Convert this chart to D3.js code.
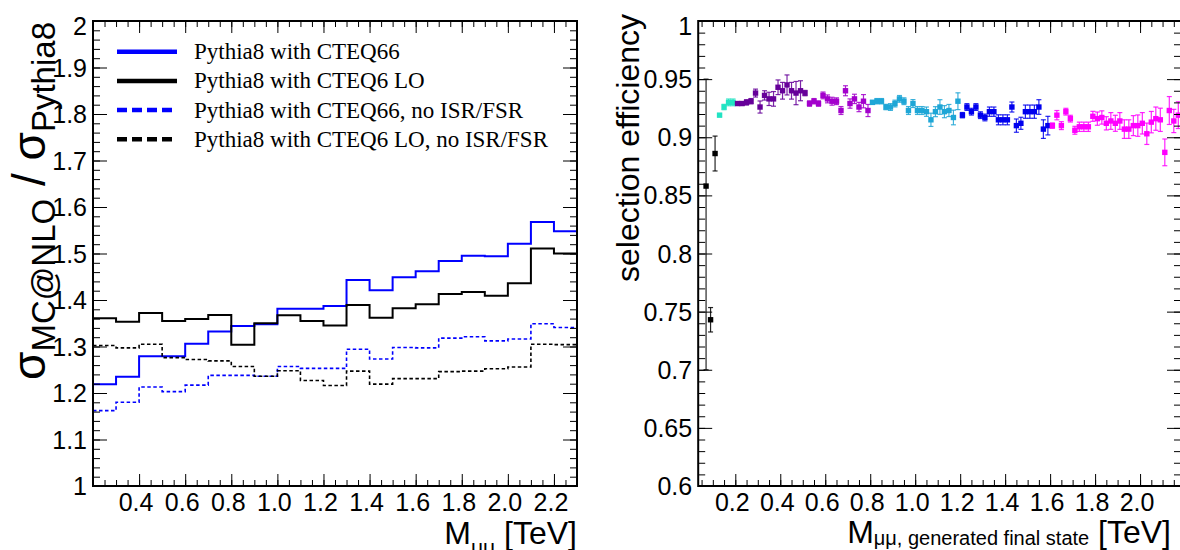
<!DOCTYPE html>
<html><head><meta charset="utf-8">
<script src="https://cdn.jsdelivr.net/npm/d3@7"></script>
<style>body{margin:0;background:#fff}svg{display:block}</style>
</head><body>
<svg id="c" width="1180" height="550"></svg>
<script>
// ---------- DATA: left panel (cross-section ratio histograms) ----------
const massBinEdges = [0.2,0.3,0.4,0.5,0.6,0.7,0.8,0.9,1.0,1.1,1.2,1.3,1.4,1.5,1.6,1.7,1.8,1.9,2.0,2.1,2.2,2.3];
const ratioCTEQ66        = [1.219,1.235,1.279,1.279,1.306,1.332,1.344,1.348,1.381,1.381,1.387,1.443,1.421,1.449,1.462,1.484,1.495,1.494,1.521,1.568,1.548];
const ratioCTEQ6LO       = [1.361,1.353,1.372,1.355,1.359,1.368,1.304,1.350,1.367,1.355,1.345,1.389,1.362,1.382,1.391,1.413,1.417,1.409,1.436,1.511,1.500];
const ratioCTEQ66noISR   = [1.162,1.180,1.213,1.203,1.217,1.238,1.238,1.236,1.257,1.253,1.253,1.294,1.273,1.298,1.297,1.318,1.321,1.312,1.316,1.349,1.341];
const ratioCTEQ6LOnoISR  = [1.302,1.297,1.305,1.276,1.272,1.269,1.257,1.236,1.248,1.227,1.216,1.247,1.219,1.231,1.231,1.246,1.247,1.252,1.256,1.305,1.304];
const legendLabels = ["Pythia8 with CTEQ66","Pythia8 with CTEQ6 LO","Pythia8 with CTEQ66, no ISR/FSR","Pythia8 with CTEQ6 LO, no ISR/FSR"];
const leftXTicks = [0.4,0.6,0.8,1.0,1.2,1.4,1.6,1.8,2.0,2.2];
const leftYTicks = [1,1.1,1.2,1.3,1.4,1.5,1.6,1.7,1.8,1.9,2];

// ---------- DATA: right panel (selection efficiency) ----------
const effMass = [0.07,0.09,0.11,0.13,0.15,0.17,0.19,0.21,0.23,0.25,0.27,0.29,0.31,0.33,0.35,0.37,0.39,0.41,0.43,0.45,0.47,0.49,0.51,0.53,0.55,0.57,0.59,0.61,0.63,0.65,0.67,0.69,0.71,0.73,0.75,0.77,0.79,0.81,0.83,0.85,0.87,0.89,0.91,0.93,0.95,0.97,0.99,1.01,1.03,1.05,1.07,1.09,1.11,1.13,1.15,1.17,1.19,1.21,1.23,1.25,1.27,1.29,1.31,1.33,1.35,1.37,1.39,1.41,1.43,1.45,1.47,1.49,1.51,1.53,1.55,1.57,1.59,1.61,1.63,1.65,1.67,1.69,1.71,1.73,1.75,1.77,1.79,1.81,1.83,1.85,1.87,1.89,1.91,1.93,1.95,1.97,1.99,2.01,2.03,2.05,2.07,2.09,2.11,2.13,2.15,2.17];
const effValue = [0.858,0.743,0.886,
  0.919,0.926,0.930,0.930,
  0.929,0.929,0.930,0.931,0.938,0.926,0.936,0.933,0.933,0.943,0.940,0.945,0.940,0.938,0.940,0.938,
  0.929,0.931,0.929,0.936,0.933,0.931,0.931,0.923,0.940,0.929,0.933,0.926,0.931,0.923,
  0.930,0.931,0.931,0.926,0.926,0.929,0.933,0.931,0.923,0.929,0.923,0.923,0.922,0.915,0.922,0.926,0.922,0.923,0.917,0.931,
  0.919,0.926,0.922,0.926,0.919,0.917,0.922,0.922,0.915,0.915,0.915,0.926,0.910,0.912,0.922,0.922,0.922,0.926,0.907,0.910,
  0.910,0.919,0.910,0.922,0.916,0.906,0.909,0.909,0.909,0.918,0.916,0.917,0.912,0.914,0.912,0.914,0.907,0.907,0.910,0.910,0.912,0.903,0.913,0.916,0.915,0.887,0.923,0.914,0.919];
const effErrUp = [0.092,0.0105,0.015,
  0.001,0.0023,0.0029,0.0029,
  0.0014,0.0014,0.0023,0.0023,0.0034,0.0052,0.0040,0.0057,0.0063,0.0063,0.0072,0.0086,0.0072,0.0100,0.0086,0.0023,
  0.0023,0.0023,0.0023,0.0029,0.0034,0.0034,0.0029,0.0034,0.0043,0.0040,0.0040,0.0040,0.0057,0.0052,
  0.0017,0.0023,0.0023,0.0023,0.0029,0.0029,0.0029,0.0029,0.0034,0.0034,0.0034,0.0034,0.0040,0.0057,0.0043,0.0063,0.0052,0.0052,0.0063,0.0072,
  0.0023,0.0029,0.0029,0.0029,0.0029,0.0029,0.0040,0.0040,0.0043,0.0043,0.0043,0.0043,0.0057,0.0052,0.0057,0.0057,0.0057,0.0063,0.0080,0.0080,
  0.0023,0.0040,0.0034,0.0029,0.0029,0.0034,0.0040,0.0040,0.0040,0.0043,0.0057,0.0057,0.0057,0.0072,0.0069,0.0072,0.0080,0.0080,0.0086,0.0092,0.0092,0.0092,0.0092,0.0100,0.0100,0.0115,0.0120,0.0100,0.0115];
const effErrDown = [0.158,0.0105,0.015].concat(effErrUp.slice(3));
const sampleCounts = [3,4,16,14,20,20,29];
const rightXTicks = [0.2,0.4,0.6,0.8,1.0,1.2,1.4,1.6,1.8,2.0];
const rightYTicks = [0.6,0.65,0.7,0.75,0.8,0.85,0.9,0.95,1];

// ---------- STYLE ----------
const sampleColors = ["#000000","#22e3c3","#660099","#a300cc","#1ea6d6","#0000ee","#ff00ff"];
const SANS = "'Liberation Sans', Arial, Helvetica, sans-serif";
const SERIF = "'Liberation Serif', 'Times New Roman', serif";
const svg = d3.select("#c");

function frameAxes(g, x, y, o) {
  const [x0,x1] = x.range(), [y1,y0] = y.range();
  const yTop = y.domain()[1];
  const mk = (axis, tr, vals, size) => g.append("g").attr("transform", tr)
      .call(axis.tickValues(vals).tickSize(size).tickFormat(""))
      .call(s => { s.select(".domain").remove(); s.selectAll("line").attr("stroke","#000").attr("stroke-width",1); });
  mk(d3.axisBottom(x), `translate(0,${y1})`, o.xMinor, -6);
  mk(d3.axisBottom(x), `translate(0,${y1})`, o.xMajor, -12);
  mk(d3.axisTop(x), `translate(0,${y0})`, o.xMinor, -6);
  mk(d3.axisTop(x), `translate(0,${y0})`, o.xMajor, -12);
  mk(d3.axisLeft(y), `translate(${x0},0)`, o.yMinor, -7);
  mk(d3.axisLeft(y), `translate(${x0},0)`, o.yMajor, -14);
  mk(d3.axisRight(y), `translate(${x1},0)`, o.yMinor, -7);
  mk(d3.axisRight(y), `translate(${x1},0)`, o.yMajor, -14);
  g.append("rect").attr("x",x0).attr("y",y0).attr("width",x1-x0).attr("height",y1-y0)
    .attr("fill","none").attr("stroke","#000").attr("stroke-width",2);
  g.append("g").selectAll("text").data(o.xLabels).join("text")
    .attr("x", d => x(d) - 3).attr("y", y1 + 25).attr("text-anchor","middle")
    .attr("font-family",SANS).attr("font-size",25).text(o.xFmt);
  g.append("g").selectAll("text").data(o.yLabels).join("text")
    .attr("x", x0 - 6).attr("y", d => y(d) + (d === yTop ? 5 : 0)).attr("dy","0.36em").attr("text-anchor","end")
    .attr("font-family",SANS).attr("font-size",25).text(o.yFmt);
}
function rangeStep(a,b,s){const r=[];for(let v=a;v<=b+1e-9;v+=s)r.push(+v.toFixed(4));return r;}

// ---------- LEFT PANEL ----------
const xL = d3.scaleLinear().domain([0.2,2.3]).range([93,577]);
const yL = d3.scaleLinear().domain([1,2]).range([486,21]);
const gL = svg.append("g");
svg.append("clipPath").attr("id","clipL").append("rect").attr("x",93).attr("y",21).attr("width",484).attr("height",465);

const series = [
  {v: ratioCTEQ66, color:"#0000ff", dash:null, w:2},
  {v: ratioCTEQ6LO, color:"#000000", dash:null, w:2},
  {v: ratioCTEQ66noISR, color:"#0000ff", dash:"3.5,2.5", w:1.6},
  {v: ratioCTEQ6LOnoISR, color:"#000000", dash:"3.5,2.5", w:1.6}
];
const step = d3.line().x(d => xL(d[0])).y(d => yL(d[1])).curve(d3.curveStepAfter);
const histG = gL.append("g").attr("clip-path","url(#clipL)");
series.forEach(s => {
  const pts = massBinEdges.map((e,i) => [e, s.v[Math.min(i, s.v.length-1)]]);
  histG.append("path").attr("d", step(pts)).attr("fill","none").attr("stroke", s.color)
    .attr("stroke-width", s.w).attr("stroke-dasharray", s.dash);
});
frameAxes(gL, xL, yL, {
  xMajor: [0.2].concat(leftXTicks), xMinor: rangeStep(0.2,2.3,0.05),
  yMajor: leftYTicks, yMinor: rangeStep(1,2,0.02),
  xLabels: leftXTicks, yLabels: leftYTicks,
  xFmt: d3.format(".1f"), yFmt: d => (d===1||d===2) ? String(d) : d.toFixed(1)
});
const leg = gL.append("g");
legendLabels.forEach((lab,i) => {
  const ly = 51.7 + i*29.2, s = series[i];
  leg.append("line").attr("x1",117).attr("x2",177).attr("y1",ly).attr("y2",ly)
    .attr("stroke",s.color).attr("stroke-width",4.5).attr("stroke-dasharray", s.dash ? "10,5" : null);
  leg.append("text").attr("x",194).attr("y",ly+7.5).attr("font-family",SERIF).attr("font-size",23).text(lab);
});
const tL = gL.append("text").attr("transform","translate(45,22) rotate(-90)").attr("text-anchor","end")
  .attr("font-family",SANS).attr("font-size",46);
tL.append("tspan").text("σ");
tL.append("tspan").attr("font-size",33).attr("dy",10).text("MC@NLO");
tL.append("tspan").attr("dy",-10).text(" / σ");
tL.append("tspan").attr("font-size",33).attr("dy",10).text("Pythia8");
const xtL = gL.append("text").attr("x",577).attr("y",544).attr("text-anchor","end").attr("font-family",SANS).attr("font-size",32);
xtL.append("tspan").text("M");
xtL.append("tspan").attr("font-size",21).attr("dy",10).text("μμ");
xtL.append("tspan").attr("dy",-10).text(" [TeV]");

// ---------- RIGHT PANEL ----------
const xR = d3.scaleLinear().domain([0.035,2.182]).range([698.2,1181]);
const yR = d3.scaleLinear().domain([0.6,1]).range([486,21]);
const gR = svg.append("g");
const colorIdx = [];
sampleCounts.forEach((c,i) => { for (let k=0;k<c;k++) colorIdx.push(i); });
const pts = effMass.map((m,i) => ({m, v:effValue[i], up:effErrUp[i], dn:effErrDown[i], c:sampleColors[colorIdx[i]]}));
const pg = gR.append("g");
const eb = pg.selectAll("g").data(pts).join("g");
eb.append("line").attr("x1",d=>xR(d.m)).attr("x2",d=>xR(d.m)).attr("y1",d=>yR(d.v+d.up)).attr("y2",d=>yR(d.v-d.dn))
  .attr("stroke",d=>d.c).attr("stroke-width",1.2).attr("opacity",0.85);
eb.append("line").attr("x1",d=>xR(d.m)-2.5).attr("x2",d=>xR(d.m)+2.5).attr("y1",d=>yR(d.v+d.up)).attr("y2",d=>yR(d.v+d.up))
  .attr("stroke",d=>d.c).attr("stroke-width",1.2).attr("opacity",0.85);
eb.append("line").attr("x1",d=>xR(d.m)-2.5).attr("x2",d=>xR(d.m)+2.5).attr("y1",d=>yR(d.v-d.dn)).attr("y2",d=>yR(d.v-d.dn))
  .attr("stroke",d=>d.c).attr("stroke-width",1.2).attr("opacity",0.85);
eb.append("rect").attr("x",d=>xR(d.m)-2.7).attr("y",d=>yR(d.v)-2.7).attr("width",5.4).attr("height",5.4).attr("fill",d=>d.c);

frameAxes(gR, xR, yR, {
  xMajor: rightXTicks, xMinor: rangeStep(0.05,2.15,0.05),
  yMajor: rightYTicks, yMinor: rangeStep(0.6,1,0.01),
  xLabels: rightXTicks, yLabels: rightYTicks,
  xFmt: d3.format(".1f"), yFmt: d => String(+d.toFixed(2))
});
gR.append("text").attr("transform","translate(639,14) rotate(-90)").attr("text-anchor","end")
  .attr("font-family",SANS).attr("font-size",32).text("selection efficiency");
const xtR = gR.append("text").attr("x",1171).attr("y",543).attr("text-anchor","end").attr("font-family",SANS).attr("font-size",32);
xtR.append("tspan").text("M");
xtR.append("tspan").attr("font-size",20).attr("dy",2).text("μμ, generated final state");
xtR.append("tspan").attr("dy",-2).text(" [TeV]");
</script>
</body></html>
